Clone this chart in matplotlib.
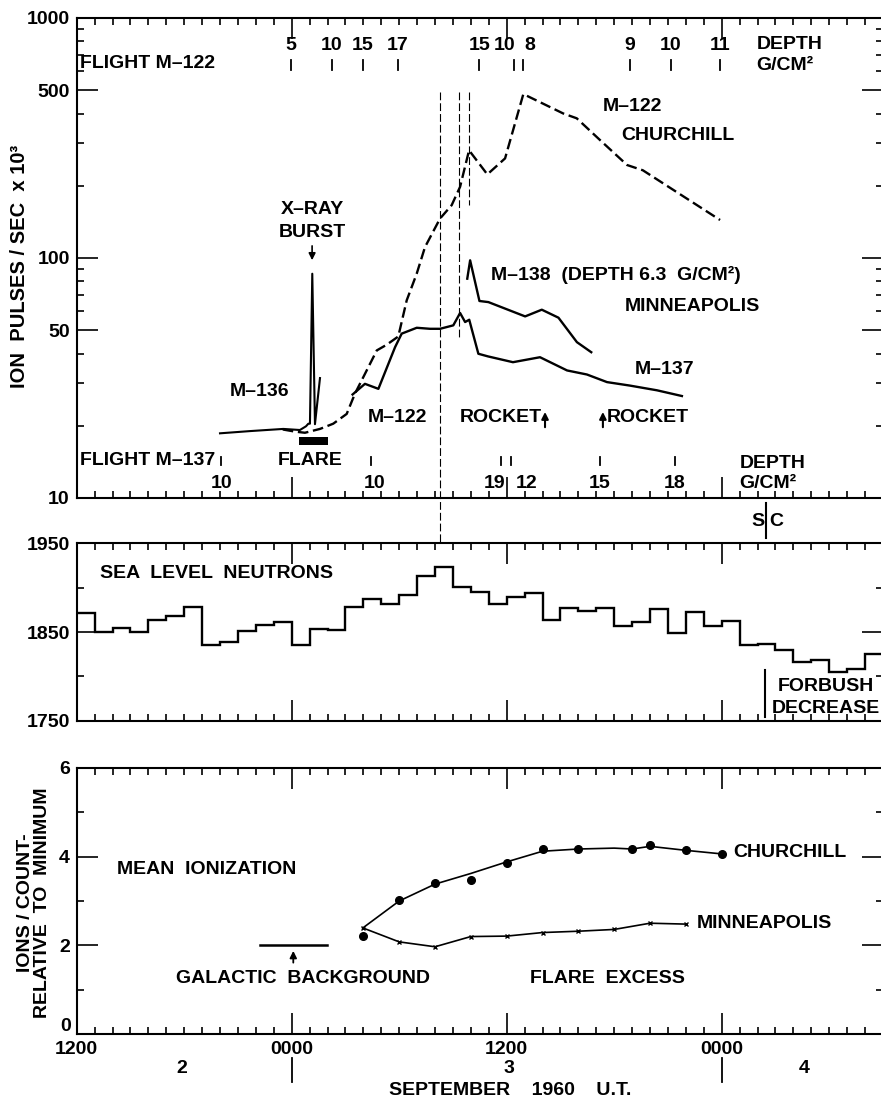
import matplotlib
matplotlib.use('Agg')
import matplotlib.pyplot as plt
from matplotlib.ticker import FixedLocator, MultipleLocator, NullFormatter, FuncFormatter
from matplotlib.patches import Rectangle
import numpy as np

plt.rcParams['font.family'] = ['Liberation Sans', 'DejaVu Sans']
plt.rcParams['font.weight'] = 'bold'
plt.rcParams['font.size'] = 14

# time axis: hours after 1200 UT, 2 September 1960

# M-122 Churchill (dashed)
m122_h = [11.5, 12.2, 12.74, 13.58, 14.32, 15.07, 15.53, 16.09, 16.75, 17.3, 17.95,
          18.42, 18.98, 19.44, 20.28, 20.93, 21.4, 21.9, 22.92, 23.91, 24.93,
          27.16, 27.91, 29.21, 30.72, 31.6, 35.91]
m122_v = [19.3, 18.9, 18.7, 19.4, 20.4, 22.4, 27.2, 32.9, 41.2, 43.5, 47.1,
          66.6, 86.1, 111, 146, 166, 198, 281, 223, 260, 482,
          400, 382, 310, 244, 232, 144]

# M-136 with x-ray burst spike
m136_h = [8.0, 9.67, 10.6, 11.53, 12.46, 12.8, 12.93, 13.02, 13.15, 13.3, 13.58]
m136_v = [18.6, 19.0, 19.2, 19.4, 19.2, 19.9, 20.4, 20.4, 86.0, 20.3, 31.6]

# M-137 Minneapolis
m137_h = [15.4, 16.09, 16.84, 17.77, 18.14, 18.98, 19.72, 20.28, 21.02, 21.4, 21.68,
          21.91, 22.42, 22.96, 24.35, 25.86, 27.37, 28.48, 29.6, 30.88, 32.39, 33.78]
m137_v = [27.0, 29.9, 28.5, 42.5, 48.4, 51.2, 50.7, 50.7, 52.4, 59.0, 54.1,
          55.3, 39.9, 38.9, 36.8, 38.6, 34.0, 32.7, 30.4, 29.4, 28.1, 26.6]

# M-138 depth 6.3 g/cm2
m138_h = [21.8, 21.96, 22.48, 22.98, 25.03, 25.96, 26.89, 27.92, 28.72]
m138_v = [82.0, 97.8, 66.2, 65.5, 57.1, 60.9, 56.4, 44.6, 40.5]

# depth marks along flights
m122_depth_tick_h = [11.96, 14.23, 15.98, 17.93, 22.47, 24.43, 24.93, 30.88, 33.17, 35.91]
m122_depth_lbl_h = [11.96, 14.23, 15.98, 17.93, 22.5, 23.9, 25.3, 30.88, 33.17, 35.91]
m122_depth_lbl = ['5', '10', '15', '17', '15', '10', '8', '9', '10', '11']
m137_depth_tick_h = [8.04, 16.42, 23.69, 24.25, 29.2, 33.4]
m137_depth_lbl_h = [8.1, 16.6, 23.35, 25.1, 29.2, 33.4]
m137_depth_lbl = ['10', '10', '19', '12', '15', '18']

# sea level neutrons, hourly
neutron_v = [1871, 1850, 1854, 1850, 1863, 1868, 1878, 1835, 1839, 1851, 1858, 1861,
             1835, 1853, 1852, 1878, 1887, 1882, 1892, 1913, 1923, 1901, 1895, 1882,
             1890, 1894, 1864, 1877, 1874, 1877, 1857, 1861, 1876, 1849, 1872, 1857,
             1862, 1835, 1837, 1830, 1816, 1818, 1805, 1808, 1825]
neutron_edges = np.arange(len(neutron_v) + 1)

# mean ionization
church_h = [16, 18, 20, 22, 24, 26, 28, 31, 32, 34, 36]
church_v = [2.21, 3.02, 3.41, 3.47, 3.85, 4.16, 4.17, 4.16, 4.25, 4.15, 4.06]
church_line_h = [15.96, 18, 20, 22, 24, 26, 28, 30, 31, 32, 34, 36]
church_line_v = [2.39, 3.0, 3.38, 3.62, 3.88, 4.12, 4.17, 4.19, 4.17, 4.23, 4.14, 4.06]
minn_h = [16, 18, 20, 22, 24, 26, 28, 30, 32, 34]
minn_v = [2.39, 2.08, 1.97, 2.20, 2.21, 2.29, 2.32, 2.36, 2.50, 2.48]
galactic_h = [10.22, 13.95]
galactic_v = [2.0, 2.0]

# right edge of the plot sits just off the page, as in the scan
xmax = (883 - 76.67) / 17.917
fig = plt.figure(figsize=(8.81, 11.01), dpi=100)
L = 76.67 / 881
W = (883 - 76.67) / 881
ax1 = fig.add_axes([L, 1 - 498 / 1101, W, 480 / 1101])
ax2 = fig.add_axes([L, 1 - 720.7 / 1101, W, 177.4 / 1101])
ax3 = fig.add_axes([L, 1 - 1034.3 / 1101, W, 266.6 / 1101])

for ax in (ax1, ax2, ax3):
    ax.set_xlim(0, xmax)
    ax.xaxis.set_major_locator(FixedLocator([0, 12, 24, 36]))
    ax.xaxis.set_minor_locator(MultipleLocator(1))
    ax.tick_params(which='both', direction='in', top=True, right=True, width=1.2,
                   labelsize=14, pad=5)
    ax.tick_params(which='major', length=15)
    ax.tick_params(which='minor', length=5)
    for s in ax.spines.values():
        s.set_linewidth(1.5)

arrow = dict(arrowstyle='-|>', lw=1.5, color='k', mutation_scale=10)

# ---- top panel
ax1.set_yscale('log')
ax1.set_ylim(10, 1000)
ax1.yaxis.set_major_locator(FixedLocator([10, 50, 100, 500, 1000]))
ax1.yaxis.set_major_formatter(FuncFormatter(lambda v, p: '%d' % v))
ax1.yaxis.set_minor_locator(FixedLocator([20, 30, 40, 60, 70, 80, 90, 200, 300, 400,
                                          600, 700, 800, 900]))
ax1.yaxis.set_minor_formatter(NullFormatter())
ax1.tick_params(labelbottom=False)

ax1.plot(m122_h, m122_v, 'k', lw=1.7, dashes=(4.5, 2))
ax1.plot(m136_h, m136_v, 'k', lw=1.5)
ax1.plot(m137_h, m137_v, 'k', lw=1.7)
ax1.plot(m138_h, m138_v, 'k', lw=1.7)

tr1 = ax1.get_xaxis_transform()
# vertical event lines
ax1.plot([20.28, 20.28], [0.8465, -0.3098], 'k', lw=0.8, dashes=(7, 2.7),
         transform=tr1, clip_on=False)
ax1.plot([21.36, 21.36], [0.8465, 0.336], 'k', lw=0.8, dashes=(7, 2.7), transform=tr1)
ax1.plot([21.91, 21.91], [0.8465, 0.610], 'k', lw=0.8, dashes=(7, 2.7), transform=tr1)

for h in m122_depth_tick_h:
    ax1.plot([h, h], [0.8917, 0.9125], 'k', lw=1.3, transform=tr1)
for h, t in zip(m122_depth_lbl_h, m122_depth_lbl):
    ax1.text(h, 0.9423, t, transform=tr1, ha='center', va='center')
for h in m137_depth_tick_h:
    ax1.plot([h, h], [0.0688, 0.0854], 'k', lw=1.3, transform=tr1)
for h, t in zip(m137_depth_lbl_h, m137_depth_lbl):
    ax1.text(h, 0.03125, t, transform=tr1, ha='center', va='center')

ax1.text(0.19, 0.906, 'FLIGHT M–122', transform=tr1, ha='left', va='center')
ax1.text(37.93, 0.944, 'DEPTH', transform=tr1, ha='left', va='center')
ax1.text(37.93, 0.902, 'G/CM²', transform=tr1, ha='left', va='center')
ax1.text(0.19, 0.079, 'FLIGHT M–137', transform=tr1, ha='left', va='center')
ax1.text(37.0, 0.0729, 'DEPTH', transform=tr1, ha='left', va='center')
ax1.text(37.0, 0.03125, 'G/CM²', transform=tr1, ha='left', va='center')

ax1.text(31.0, 0.8146, 'M–122', transform=tr1, ha='center', va='center')
ax1.text(33.55, 0.756, 'CHURCHILL', transform=tr1, ha='center', va='center')
ax1.text(13.14, 0.602, 'X–RAY', transform=tr1, ha='center', va='center')
ax1.text(13.14, 0.554, 'BURST', transform=tr1, ha='center', va='center')
ax1.annotate('', xy=(13.14, 0.4896), xytext=(13.14, 0.531), xycoords=tr1,
             arrowprops=dict(arrow, lw=1.2))
ax1.text(10.18, 0.2215, 'M–136', transform=tr1, ha='center', va='center')
ax1.text(17.93, 0.1667, 'M–122', transform=tr1, ha='center', va='center')
ax1.text(21.4, 0.1667, 'ROCKET', transform=tr1, ha='left', va='center')
ax1.annotate('', xy=(26.14, 0.185), xytext=(26.14, 0.1417), xycoords=tr1,
             arrowprops=arrow)
ax1.annotate('', xy=(29.37, 0.185), xytext=(29.37, 0.1417), xycoords=tr1,
             arrowprops=arrow)
ax1.text(29.58, 0.1667, 'ROCKET', transform=tr1, ha='left', va='center')
ax1.text(23.15, 0.4646, 'M–138  (DEPTH 6.3  G/CM²)', transform=tr1, ha='left', va='center')
ax1.text(30.6, 0.3985, 'MINNEAPOLIS', transform=tr1, ha='left', va='center')
ax1.text(31.16, 0.2667, 'M–137', transform=tr1, ha='left', va='center')
ax1.text(13.04, 0.079, 'FLARE', transform=tr1, ha='center', va='center')
ax1.add_patch(Rectangle((12.41, 0.1104), 14.05 - 12.41, 0.0161, transform=tr1,
                        color='k', lw=0))

# ---- middle panel
ax2.set_ylim(1750, 1950)
ax2.yaxis.set_major_locator(FixedLocator([1750, 1850, 1950]))
ax2.yaxis.set_minor_locator(FixedLocator([1800, 1900]))
ax2.tick_params(labelbottom=False)
ax2.stairs(neutron_v, neutron_edges, color='k', lw=1.7, baseline=None)
tr2 = ax2.get_xaxis_transform()
ax2.text(1.3, 0.827, 'SEA  LEVEL  NEUTRONS', transform=tr2, ha='left', va='center')
ax2.text(38.0, 1.1218, 'S', transform=tr2, ha='center', va='center')
ax2.text(39.06, 1.1218, 'C', transform=tr2, ha='center', va='center')
ax2.plot([38.5, 38.5], [1.03, 1.227], 'k', lw=1.5, transform=tr2, clip_on=False)
ax2.plot([38.4, 38.4], [0.0225, 0.286], 'k', lw=1.5, transform=tr2)
ax2.text(39.14, 0.1917, 'FORBUSH', transform=tr2, ha='left', va='center')
ax2.text(38.8, 0.07, 'DECREASE', transform=tr2, ha='left', va='center')

# ---- bottom panel
ax3.set_ylim(0, 6)
ax3.yaxis.set_major_locator(FixedLocator([0, 2, 4, 6]))
ax3.yaxis.set_minor_locator(FixedLocator([1, 3, 5]))
# the "0" label sits a little above the corner so it clears the "1200" below
ax3.yaxis.set_major_formatter(FuncFormatter(lambda v, p: '' if v == 0 else '%d' % v))
ax3.text(-0.007, 0.03, '0', transform=ax3.transAxes, ha='right', va='center')
ax3.xaxis.set_major_formatter(FuncFormatter(
    lambda v, p: {0: '1200', 12: '0000', 24: '1200', 36: '0000'}.get(int(round(v)), '')))
ax3.plot(church_line_h, church_line_v, 'k', lw=1.2)
ax3.plot(church_h, church_v, 'o', color='k', ms=5.5)
ax3.plot(minn_h, minn_v, 'k', lw=1.2, marker='x', ms=3.5, mew=1.0)
ax3.plot(galactic_h, galactic_v, 'k', lw=1.8)
ax3.annotate('', xy=(12.09, 1.94), xytext=(12.09, 1.55), arrowprops=dict(arrow, lw=1.3))
ax3.text(2.23, 3.70, 'MEAN  IONIZATION', ha='left', va='center')
ax3.text(5.55, 1.26, 'GALACTIC  BACKGROUND', ha='left', va='center')
ax3.text(25.3, 1.26, 'FLARE  EXCESS', ha='left', va='center')
ax3.text(36.65, 4.09, 'CHURCHILL', ha='left', va='center')
ax3.text(34.6, 2.50, 'MINNEAPOLIS', ha='left', va='center')

tr3 = ax3.get_xaxis_transform()
for h, t in zip([5.84, 24.1, 40.6], ['2', '3', '4']):
    ax3.text(h, -0.1275, t, transform=tr3, ha='center', va='center')
for h in [12, 36]:
    ax3.plot([h, h], [-0.089, -0.178], 'k', lw=1.3, transform=tr3, clip_on=False)
ax3.text(24.19, -0.209, 'SEPTEMBER    1960    U.T.', transform=tr3, ha='center', va='center')

fig.text(20 / 881, 1 - 266 / 1101, 'ION  PULSES / SEC  x 10³', rotation=90,
         ha='center', va='center', fontsize=14.5)
fig.text(34 / 881, 1 - 903 / 1101, 'IONS / COUNT-\nRELATIVE  TO  MINIMUM', rotation=90,
         ha='center', va='center', linespacing=1.0, multialignment='center')

fig.savefig('out.png', dpi=100)
